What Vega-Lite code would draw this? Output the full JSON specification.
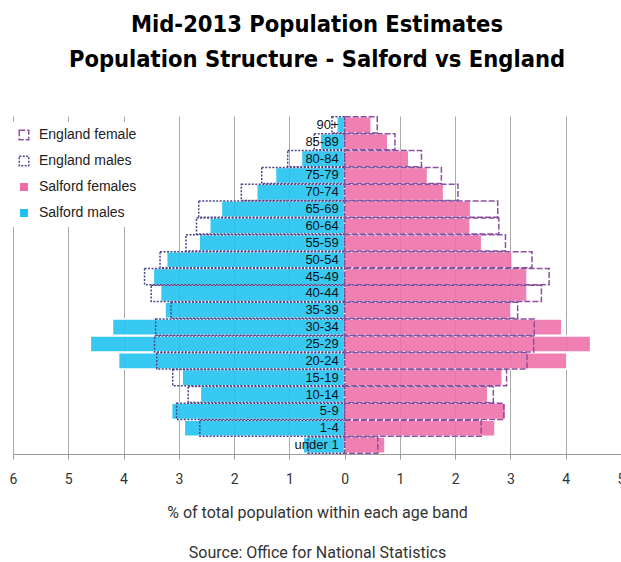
{
  "$schema": "https://vega.github.io/schema/vega-lite/v6.json",
  "width": 608,
  "height": 338,
  "autosize": {"type": "none"},
  "padding": {"top": 116, "left": 13, "right": 0, "bottom": 108},
  "background": "white",
  "title": {
    "text": ["Mid-2013 Population Estimates", "Population Structure - Salford vs England"],
    "font": "DejaVu Sans Condensed, sans-serif",
    "fontSize": 23.5,
    "fontWeight": "bold",
    "lineHeight": 35,
    "color": "#000000",
    "anchor": "middle",
    "frame": "group",
    "offset": 45
  },
  "config": {
    "view": {"stroke": null},
    "legend": {
      "orient": "none",
      "legendX": -2,
      "legendY": 6,
      "padding": 6,
      "fillColor": "white",
      "strokeColor": null,
      "symbolType": "square",
      "symbolSize": 90,
      "symbolStrokeWidth": 1.5,
      "labelFont": "Liberation Sans, Arial, sans-serif",
      "labelFontSize": 14,
      "labelColor": "#222222",
      "rowPadding": 10,
      "labelOffset": 8,
      "title": null
    }
  },
  "data": {
    "values": [
      {"age": "90+", "series": "Salford males", "value": -0.14},
      {"age": "85-89", "series": "Salford males", "value": -0.44},
      {"age": "80-84", "series": "Salford males", "value": -0.78},
      {"age": "75-79", "series": "Salford males", "value": -1.25},
      {"age": "70-74", "series": "Salford males", "value": -1.59},
      {"age": "65-69", "series": "Salford males", "value": -2.23},
      {"age": "60-64", "series": "Salford males", "value": -2.44},
      {"age": "55-59", "series": "Salford males", "value": -2.63},
      {"age": "50-54", "series": "Salford males", "value": -3.22},
      {"age": "45-49", "series": "Salford males", "value": -3.46},
      {"age": "40-44", "series": "Salford males", "value": -3.33},
      {"age": "35-39", "series": "Salford males", "value": -3.25},
      {"age": "30-34", "series": "Salford males", "value": -4.20},
      {"age": "25-29", "series": "Salford males", "value": -4.60},
      {"age": "20-24", "series": "Salford males", "value": -4.09},
      {"age": "15-19", "series": "Salford males", "value": -2.94},
      {"age": "10-14", "series": "Salford males", "value": -2.61},
      {"age": "5-9", "series": "Salford males", "value": -3.13},
      {"age": "1-4", "series": "Salford males", "value": -2.90},
      {"age": "under 1", "series": "Salford males", "value": -0.75},

      {"age": "90+", "series": "Salford females", "value": 0.48},
      {"age": "85-89", "series": "Salford females", "value": 0.78},
      {"age": "80-84", "series": "Salford females", "value": 1.16},
      {"age": "75-79", "series": "Salford females", "value": 1.50},
      {"age": "70-74", "series": "Salford females", "value": 1.79},
      {"age": "65-69", "series": "Salford females", "value": 2.28},
      {"age": "60-64", "series": "Salford females", "value": 2.27},
      {"age": "55-59", "series": "Salford females", "value": 2.48},
      {"age": "50-54", "series": "Salford females", "value": 3.03},
      {"age": "45-49", "series": "Salford females", "value": 3.30},
      {"age": "40-44", "series": "Salford females", "value": 3.30},
      {"age": "35-39", "series": "Salford females", "value": 3.01},
      {"age": "30-34", "series": "Salford females", "value": 3.93},
      {"age": "25-29", "series": "Salford females", "value": 4.45},
      {"age": "20-24", "series": "Salford females", "value": 4.02},
      {"age": "15-19", "series": "Salford females", "value": 2.85},
      {"age": "10-14", "series": "Salford females", "value": 2.59},
      {"age": "5-9", "series": "Salford females", "value": 2.91},
      {"age": "1-4", "series": "Salford females", "value": 2.72},
      {"age": "under 1", "series": "Salford females", "value": 0.73},

      {"age": "90+", "series": "England males", "value": -0.23},
      {"age": "85-89", "series": "England males", "value": -0.55},
      {"age": "80-84", "series": "England males", "value": -1.03},
      {"age": "75-79", "series": "England males", "value": -1.50},
      {"age": "70-74", "series": "England males", "value": -1.87},
      {"age": "65-69", "series": "England males", "value": -2.64},
      {"age": "60-64", "series": "England males", "value": -2.68},
      {"age": "55-59", "series": "England males", "value": -2.87},
      {"age": "50-54", "series": "England males", "value": -3.34},
      {"age": "45-49", "series": "England males", "value": -3.62},
      {"age": "40-44", "series": "England males", "value": -3.50},
      {"age": "35-39", "series": "England males", "value": -3.14},
      {"age": "30-34", "series": "England males", "value": -3.42},
      {"age": "25-29", "series": "England males", "value": -3.44},
      {"age": "20-24", "series": "England males", "value": -3.40},
      {"age": "15-19", "series": "England males", "value": -3.11},
      {"age": "10-14", "series": "England males", "value": -2.83},
      {"age": "5-9", "series": "England males", "value": -3.04},
      {"age": "1-4", "series": "England males", "value": -2.62},
      {"age": "under 1", "series": "England males", "value": -0.66},

      {"age": "90+", "series": "England female", "value": 0.59},
      {"age": "85-89", "series": "England female", "value": 0.91},
      {"age": "80-84", "series": "England female", "value": 1.39},
      {"age": "75-79", "series": "England female", "value": 1.75},
      {"age": "70-74", "series": "England female", "value": 2.05},
      {"age": "65-69", "series": "England female", "value": 2.77},
      {"age": "60-64", "series": "England female", "value": 2.79},
      {"age": "55-59", "series": "England female", "value": 2.91},
      {"age": "50-54", "series": "England female", "value": 3.39},
      {"age": "45-49", "series": "England female", "value": 3.70},
      {"age": "40-44", "series": "England female", "value": 3.56},
      {"age": "35-39", "series": "England female", "value": 3.13},
      {"age": "30-34", "series": "England female", "value": 3.43},
      {"age": "25-29", "series": "England female", "value": 3.42},
      {"age": "20-24", "series": "England female", "value": 3.30},
      {"age": "15-19", "series": "England female", "value": 2.93},
      {"age": "10-14", "series": "England female", "value": 2.69},
      {"age": "5-9", "series": "England female", "value": 2.88},
      {"age": "1-4", "series": "England female", "value": 2.47},
      {"age": "under 1", "series": "England female", "value": 0.60}
    ]
  },
  "layer": [
    {
      "mark": {"type": "bar", "fillOpacity": 0.88, "strokeWidth": 1.5},
      "encoding": {
        "y": {
          "field": "age",
          "type": "nominal",
          "sort": ["90+", "85-89", "80-84", "75-79", "70-74", "65-69", "60-64", "55-59", "50-54", "45-49", "40-44", "35-39", "30-34", "25-29", "20-24", "15-19", "10-14", "5-9", "1-4", "under 1"],
          "scale": {"paddingInner": 0.04, "paddingOuter": 0.05},
          "axis": null
        },
        "x": {
          "field": "value",
          "type": "quantitative",
          "stack": null,
          "scale": {"domain": [-6, 5], "nice": false, "zero": false},
          "axis": {
            "values": [-6, -5, -4, -3, -2, -1, 0, 1, 2, 3, 4, 5],
            "labelExpr": "abs(datum.value)",
            "grid": true,
            "gridColor": "#aaaaaa",
            "gridWidth": 1,
            "domainColor": "#999999",
            "tickColor": "#999999",
            "tickSize": 5,
            "labelFont": "Roboto, sans-serif",
            "labelFontSize": 14,
            "labelColor": "#333333",
            "labelPadding": 13,
            "labelFlush": false,
            "labelOverlap": false,
            "title": ["% of total population within each age band", "Source: Office for National Statistics"],
            "titleFont": "Roboto, sans-serif",
            "titleFontSize": 16,
            "titleFontWeight": "normal",
            "titleColor": "#333333",
            "titleLineHeight": 40,
            "titlePadding": 18
          }
        },
        "fill": {
          "field": "series",
          "type": "nominal",
          "scale": {
            "domain": ["England female", "England males", "Salford females", "Salford males"],
            "range": ["transparent", "transparent", "#EE6DA7", "#1DC1F0"]
          },
          "legend": {"zindex": 1}
        },
        "stroke": {
          "field": "series",
          "type": "nominal",
          "scale": {
            "domain": ["England female", "England males", "Salford females", "Salford males"],
            "range": ["#8A4F9E", "#4A4589", "#ffffff", "#ffffff"]
          },
          "legend": {"zindex": 1}
        },
        "strokeDash": {
          "field": "series",
          "type": "nominal",
          "scale": {
            "domain": ["England female", "England males", "Salford females", "Salford males"],
            "range": [[6, 2], [2, 1.5], [1, 0], [1, 0]]
          },
          "legend": {"zindex": 1}
        }
      }
    },
    {
      "transform": [{"filter": "datum.series === 'Salford males'"}],
      "mark": {
        "type": "text",
        "align": "right",
        "baseline": "middle",
        "dx": -6,
        "font": "Liberation Sans, Arial, sans-serif",
        "fontSize": 13,
        "color": "#111111"
      },
      "encoding": {
        "y": {
          "field": "age",
          "type": "nominal",
          "sort": ["90+", "85-89", "80-84", "75-79", "70-74", "65-69", "60-64", "55-59", "50-54", "45-49", "40-44", "35-39", "30-34", "25-29", "20-24", "15-19", "10-14", "5-9", "1-4", "under 1"]
        },
        "x": {"datum": 0},
        "text": {"field": "age", "type": "nominal"}
      }
    }
  ]
}
